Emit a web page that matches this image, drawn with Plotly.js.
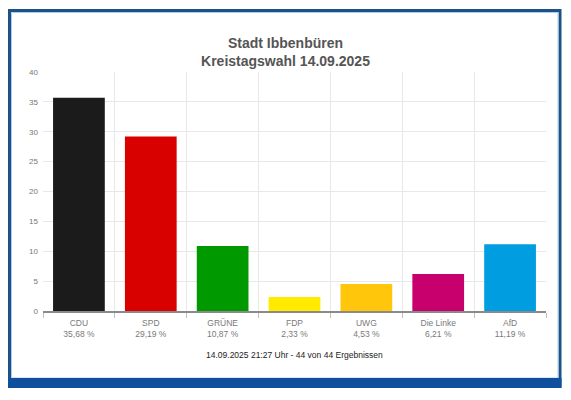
<!DOCTYPE html>
<html>
<head>
<meta charset="utf-8">
<script src="https://cdn.plot.ly/plotly-3.0.1.min.js"></script>
<style>html,body{margin:0;padding:0;background:#fff;}#chart{width:571px;height:400px;}</style>
</head>
<body>
<div id="chart"></div>
<script>
const parties = ["CDU", "SPD", "GRÜNE", "FDP", "UWG", "Die Linke", "AfD"];
const shares = [35.68, 29.19, 10.87, 2.33, 4.53, 6.21, 11.19];
const partyColors = ["#1b1b1b", "#d90000", "#009a00", "#ffea00", "#ffc60b", "#c8006e", "#009ee0"];
const yTicks = [0, 5, 10, 15, 20, 25, 30, 35, 40];
const titleLines = ["Stadt Ibbenbüren", "Kreistagswahl 14.09.2025"];
const footerText = "14.09.2025 21:27 Uhr - 44 von 44 Ergebnissen";

const W = 571, H = 400;
const M = {l: 43, r: 25, t: 72, b: 89};
const pw = W - M.l - M.r, ph = H - M.t - M.b;
const px = v => (v - M.l) / pw;
const py = v => (H - M.b - v) / ph;

const idx = parties.map((_, i) => i);
const labels = parties.map((p, i) => p + "<br>" + shares[i].toFixed(2).replace(".", ",") + " %");

const trace = {
  type: "bar",
  x: idx,
  y: shares,
  width: 0.72,
  marker: {color: partyColors, line: {width: 0}},
  hoverinfo: "skip"
};

const layout = {
  width: W, height: H,
  margin: M,
  paper_bgcolor: "#ffffff",
  plot_bgcolor: "#ffffff",
  font: {family: "Liberation Sans, Arial, sans-serif", color: "#777"},
  showlegend: false,
  title: {
    text: "<b>" + titleLines.join("<br>") + "</b>",
    font: {size: 14, color: "#555", family: "Liberation Sans, Arial, sans-serif"},
    x: 0.5, xref: "container",
    y: 1 - 48 / H, yref: "container", yanchor: "middle"
  },
  xaxis: {
    range: [-0.5, parties.length - 0.5],
    tickmode: "array",
    tickvals: idx,
    ticktext: labels,
    ticks: "",
    ticklabelstandoff: 3,
    showgrid: false,
    zeroline: false,
    showline: true,
    linecolor: "#8a8a8a",
    linewidth: 1.5,
    tickfont: {size: 8.5, color: "#7a7a7a"},
    minor: {
      tickmode: "linear", tick0: -0.5, dtick: 1,
      showgrid: true, gridcolor: "#e8e8e8", gridwidth: 1,
      ticks: "outside", ticklen: 5, tickcolor: "#c0c0c0", tickwidth: 1
    },
    fixedrange: true
  },
  yaxis: {
    range: [0, 40],
    tickmode: "array",
    tickvals: yTicks,
    ticktext: yTicks.map(String),
    showgrid: true,
    gridcolor: "#e8e8e8",
    gridwidth: 1,
    zeroline: false,
    showline: false,
    ticks: "",
    ticklabelstandoff: 4,
    tickfont: {size: 8, color: "#777"},
    fixedrange: true
  },
  annotations: [{
    text: footerText,
    xref: "paper", yref: "paper",
    x: 0.5, y: py(355),
    xanchor: "center", yanchor: "middle",
    showarrow: false,
    font: {size: 8.5, color: "#222", family: "Liberation Sans, Arial, sans-serif"}
  }],
  shapes: [
    {type: "rect", xref: "paper", yref: "paper", layer: "below",
     x0: px(9.5), x1: px(560), y0: py(386), y1: py(10.5),
     line: {color: "#1d5287", width: 3}, fillcolor: "rgba(0,0,0,0)"},
    {type: "rect", xref: "paper", yref: "paper", layer: "below",
     x0: px(11.5), x1: px(558), y0: py(378), y1: py(12.5),
     line: {color: "#a9cdea", width: 1}, fillcolor: "rgba(0,0,0,0)"},
    {type: "rect", xref: "paper", yref: "paper", layer: "above",
     x0: px(8), x1: px(561.5), y0: py(388), y1: py(378),
     line: {width: 0}, fillcolor: "#0f4f9e"}
  ]
};

Plotly.newPlot("chart", [trace], layout, {displayModeBar: false, staticPlot: true});
</script>
</body>
</html>
